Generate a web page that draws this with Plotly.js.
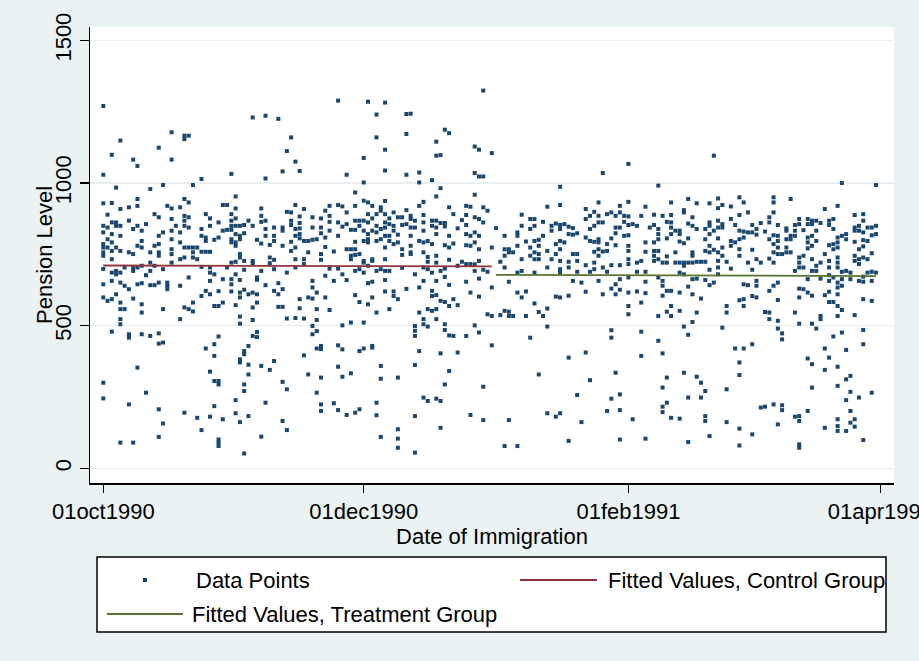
<!DOCTYPE html>
<html><head><meta charset="utf-8">
<script src="https://cdn.plot.ly/plotly-3.0.1.min.js"></script>
<style>html,body{margin:0;padding:0;background:#ffffff;}#chart{width:919px;height:661px;}</style>
</head><body><div id="chart"></div>
<script>
// Pension level of each observation, grouped by day of immigration (index = day of month - 1)
const pensionOct1990 = [
 [1270,1029,929,850,827,786,774,757,745,699,645,599,300,245],
 [889,844,803,774,587],
 [1099,930,862,821,792,762,733,686,657,593,479],
 [984,862,850,774,692,680,610],
 [1149,909,850,815,762,686,651,581,558,523,505,90],
 [704,640,558],
 [915,868,757,628,470,458,224],
 [1082,839,751,704,692,595,90],
 [1060,944,920,850,780,704,645,353],
 [833,797,774,710,649,575,546,470],
 [856,677,265],
 [979,757,721,692,642,464],
 [891,780,710,642],
 [1124,880,815,786,757,745,651,473,437,207,110],
 [993,827,698,558,441,157],
 [920,651,640,628],
 [1178,1082,911,874,833,803,768,751,721],
 [850],
 [915,827,792,733,640,523],
 [1166,1154,944,885,868,850,774,739,564,195],
 [1166,932,880,844,774,669,558],
 [993,774,757,739,581,550],
 [774,733,177],
 [1014,839,815,759,706,604,134],
 [891,809,797,759,622,420],
 [876,850,759,704,686,657,610,339,181],
 [801,680,569,435,394,306,218],
 [862,809,621,569,462,306,294,101,90,78],
 [923,833,663,581,172],
 [923,836,704],
 [1032,891,868,850,836,803,792,721,663,645,620]
];
const pensionNov1990 = [
 [953,911,876,850,821,792,780,724,680,572,239,193],
 [850,815,803,751,739,660,616,599,532,507,382,371,162],
 [853,824,727,696,626,411,400,294,271,52],
 [868,610,429,363,329,183],
 [1230,850,727,719,616,564,520,464],
 [801,669,661,610,581,478,460],
 [911,885,864,788,692,359,111],
 [1236,1016,868,839,815,642,230],
 [783,739,719,345],
 [844,815,797,731,698,622,376],
 [1225,649,610,566],
 [1041,844,833,780,628,566,303,166],
 [1112,899,686,525,277,134],
 [1160,897,868,853,794,762],
 [1075,923,839,815,774,733,704,527],
 [1042,883,860,841,821,806,593,561],
 [909,797,733,716,525,396],
 [797,757,599,329],
 [880,844,801,657,634,595,499,470],
 [803,616,558,520,481,420,265],
 [876,844,824,751,731,429,418,318,224,201],
 [903,809,776,675,599],
 [920,885,864,833,700,555],
 [760,657,228],
 [1289,923,862,815,700,431,356,204],
 [918,847,680,501,417,321],
 [1029,897,856,768,660,187],
 [836,768,745,733,511,333],
 [967,920,868,836,794,768,748,692,607,195],
 [868,850,751,698,583,411,207]
];
const pensionDec1990 = [
 [1088,1002,938,868,833,797,727,721,686,511,420],
 [1285,932,891,862,821,803,792,710,649,575],
 [920,876,833,733,727,654,599,429,423],
 [1240,1160,891,850,827,797,692,546,230,186],
 [915,903,839,803,698,359,314,110],
 [1282,1117,1044,937,891,862,844,815,774,733,692,660,620],
 [876,856,815,797,692,558],
 [897,850,833,786,620,604],
 [880,819,792,593,318,137,104,72],
 [880,853,768,748,703],
 [1242,1172,1029,905,856,629],
 [1243,885,874,844,815,780,757,751],
 [868,844,680,499,482,464,362,183,55],
 [1037,1002,920,797,634,546,411],
 [934,888,862,833,792,757,704,657,523,505,248],
 [797,741,724,698,558,497,236],
 [1010,868,850,786,686,622,604,552],
 [1145,1096,953,868,844,821,745,721,657,607,558,523,244],
 [1098,982,860,692,587,403,236,142],
 [1187,860,848,782,700,671,583,505,485,294],
 [1175,915,815,774,731,643,569,466,341],
 [891,788,593,464],
 [841,710,572,406],
 [870,724],
 [920,888,853,821,782,716,654,464],
 [917,815,780,716,616,187],
 [1128,1035,959,880,827,792,715,692,501],
 [1117,1023,874,815,768,727,665,602,476],
 [1324,1023,915,862,696,286,169],
 [903,689,540],
 [1105,774,634,534,431]
];
const pensionJan1991 = [
 [842],
 [724,537],
 [815,768,745,704,552,78],
 [768,757,654,549,534,169],
 [757,534],
 [827,815,780,686,616,78],
 [889,850,733,692,599],
 [795,620,534],
 [874,839,774,745,458],
 [874,850,797,757,733,686,578],
 [801,780,751,733,548,329],
 [864,815,534],
 [917,762,704,560,497,193],
 [850,833,733],
 [858,786,751,602,181],
 [987,923,853,839,797,768,727,698,686,599,193],
 [856,792],
 [847,821,724,704,605,388,96],
 [842,819,751,657],
 [824,751,727,689,257],
 [651,162],
 [909,874,809,712,619,406],
 [885,839,797,689,309],
 [899,850,794,759,721,698],
 [932,885,862,803,792,768,745,657],
 [1035,862,760,704,610],
 [891,786,762,689,201],
 [897,806,712,630,484,458,244],
 [885,844,824,782,645,610,335],
 [920,897,844,712,663,626,259,204,101],
 [885,864,815]
];
const pensionFeb1991 = [
 [1067,934,883,853,817,780,762,733,716,669,616,569,540],
 [856,172],
 [850,721,689,620],
 [885,727,581,479,394],
 [917,792,759,689,654,614,104],
 [844],
 [889,853,792,762,745,727],
 [991,839,821,803,762,733,669,534,447],
 [885,721,657,640,605,403,283,216,197],
 [864,806,743,721,622,549,318,230],
 [932,888,862,844,821,622,569,534,177],
 [833,757,721],
 [833,821,795,721,686,616,552,174],
 [905,897,789,721,710,680,497,335],
 [944,858,806,721,637,468,248,92],
 [880,850,757,745,721,663,610,513],
 [929,839,724,665,546,321],
 [724,595,300,248],
 [839,803,762,724,660,271,183,166],
 [929,862,850,821,780,757,696,642,113],
 [1096,833,766,651],
 [946,912,868,844,806,757,727,704,680],
 [923,856,844,774,745,493],
 [724,569,546,277,162],
 [918,874,797,780,700],
 [853,792,420],
 [950,888,833,803,768,745,589,371,327,139,80],
 [932,830,809,645,593,569,420]
];
const pensionMar1991 = [
 [897,827,721,642],
 [853,827,766,696,604,435,119],
 [839,819,733,657,640,599],
 [860,721,213],
 [830,548,216],
 [880,862,803,735,622,546,523],
 [950,932,897,817,786,757,721,640,224],
 [853,815,797,774,751,651,590,517,490,154],
 [751,473,452,221,204],
 [841,833,803,774,757],
 [944,815,803,757],
 [853,833,815,692,546,181],
 [874,856,739,721,704,630,599,507,183,166,84,72],
 [835,745,704,628],
 [874,856,809,792,771,663,616,385,201],
 [868,856,815,780,733,692,605,507,365,283],
 [868,833,797,710,692,490],
 [860,721,665,534,523],
 [909,751,607,420,345,142],
 [868,853,782,727,704,677,657,619,583,388],
 [874,839,786,768,669,583,462],
 [920,809,792,774,739,721,704,651,634,610,569,534,356,289,172,148,131],
 [1000,815,689,663,640,555,476],
 [821,803,692,415,312,239,131],
 [686,663,324,268,201,160],
 [888,844,833,794,745,727,537,172,146],
 [850,833,768,733,716,657,248],
 [891,868,827,800,778,739,672,654,593,485,435,99],
 [844,797,733,686],
 [844,817,754,689,657,587,265],
 [993,850,821,686]
];
const monthKeys = ['1990-10','1990-11','1990-12','1991-01','1991-02','1991-03'];
const monthData = [pensionOct1990, pensionNov1990, pensionDec1990, pensionJan1991, pensionFeb1991, pensionMar1991];

const controlFitDates = ['1990-10-01','1990-12-31'];
const controlFitValues = [711, 708];
const treatmentFitDates = ['1991-01-01','1991-03-31'];
const treatmentFitValues = [678, 674];

const xTickVals = ['1990-10-01','1990-12-01','1991-02-01','1991-04-01'];
const xTickText = ['01oct1990','01dec1990','01feb1991','01apr1991'];
const yTickVals = [0, 500, 1000, 1500];

const ptX = [], ptY = [];
monthData.forEach((days, m) => {
  days.forEach((vals, i) => {
    const d = monthKeys[m] + '-' + String(i + 1).padStart(2, '0');
    vals.forEach(v => { ptX.push(d); ptY.push(v); });
  });
});

const FONT = 'Liberation Sans, Arial, sans-serif';
const NAVY = '#1a476f', MAROON = '#90353b', OLIVE = '#55752f';

const traces = [
  {type:'scatter', mode:'markers', name:'Data Points', x:ptX, y:ptY,
   marker:{symbol:'square', size:4, color:NAVY}, hoverinfo:'x+y'},
  {type:'scatter', mode:'lines', name:'Fitted Values, Control Group',
   x:controlFitDates, y:controlFitValues, line:{color:MAROON, width:1.8}},
  {type:'scatter', mode:'lines', name:'Fitted Values, Treatment Group',
   x:treatmentFitDates, y:treatmentFitValues, line:{color:OLIVE, width:1.8}}
];

// paper-coordinate helpers for the hand-drawn Stata-style legend and y title
const PL = 90, PR = 894, PT = 27, PB = 483;
const px = v => (v - PL) / (PR - PL);
const py = v => (PB - v) / (PB - PT);
const row1 = py(580), row2 = py(614);
const txtFont = {family: FONT, size: 22, color: '#000'};

const layout = {
  width: 919, height: 661,
  margin: {l: PL, r: 919 - PR, t: PT, b: 661 - PB, pad: 0},
  paper_bgcolor: '#eaf2f3',
  plot_bgcolor: '#ffffff',
  showlegend: false,
  font: txtFont,
  xaxis: {
    type: 'date',
    range: ['1990-09-27 21:20', '1991-04-04 05:00'],
    tickmode: 'array', tickvals: xTickVals, ticktext: xTickText,
    ticklabeloverflow: 'allow',
    ticks: 'outside', ticklen: 8, tickwidth: 1.5, tickcolor: '#000',
    showline: true, linecolor: '#000', linewidth: 1.5,
    showgrid: false, zeroline: false,
    tickfont: txtFont,
    title: {text: 'Date of Immigration', font: txtFont, standoff: 0}
  },
  yaxis: {
    range: [-51.5, 1547],
    tickmode: 'array', tickvals: yTickVals,
    tickangle: -90,
    ticks: 'outside', ticklen: 9, tickwidth: 1.5, tickcolor: '#000',
    showline: true, linecolor: '#000', linewidth: 1.5,
    showgrid: true, gridcolor: '#e6eef0', gridwidth: 1.5,
    zeroline: false,
    tickfont: txtFont
  },
  shapes: [
    {type:'rect', xref:'paper', yref:'paper', x0:px(97), x1:px(886), y0:py(632), y1:py(557),
     line:{color:'#000', width:1.5}, fillcolor:'#ffffff'},
    {type:'rect', xref:'paper', yref:'paper', x0:px(143), x1:px(147), y0:py(582), y1:py(578),
     line:{width:0}, fillcolor:NAVY},
    {type:'line', xref:'paper', yref:'paper', x0:px(520), x1:px(597), y0:row1, y1:row1,
     line:{color:MAROON, width:1.8}},
    {type:'line', xref:'paper', yref:'paper', x0:px(107), x1:px(183), y0:row2, y1:row2,
     line:{color:OLIVE, width:1.8}}
  ],
  annotations: [
    {xref:'paper', yref:'paper', x:px(44), y:py(255), xanchor:'center', yanchor:'middle',
     textangle:-90, text:'Pension Level', showarrow:false, font:txtFont},
    {xref:'paper', yref:'paper', x:px(194), y:row1, xanchor:'left', yanchor:'middle',
     text:'Data Points', showarrow:false, font:txtFont},
    {xref:'paper', yref:'paper', x:px(606), y:row1, xanchor:'left', yanchor:'middle',
     text:'Fitted Values, Control Group', showarrow:false, font:txtFont},
    {xref:'paper', yref:'paper', x:px(190), y:row2, xanchor:'left', yanchor:'middle',
     text:'Fitted Values, Treatment Group', showarrow:false, font:txtFont}
  ]
};

Plotly.newPlot('chart', traces, layout, {displayModeBar: false, staticPlot: true});
</script>
</body></html>
